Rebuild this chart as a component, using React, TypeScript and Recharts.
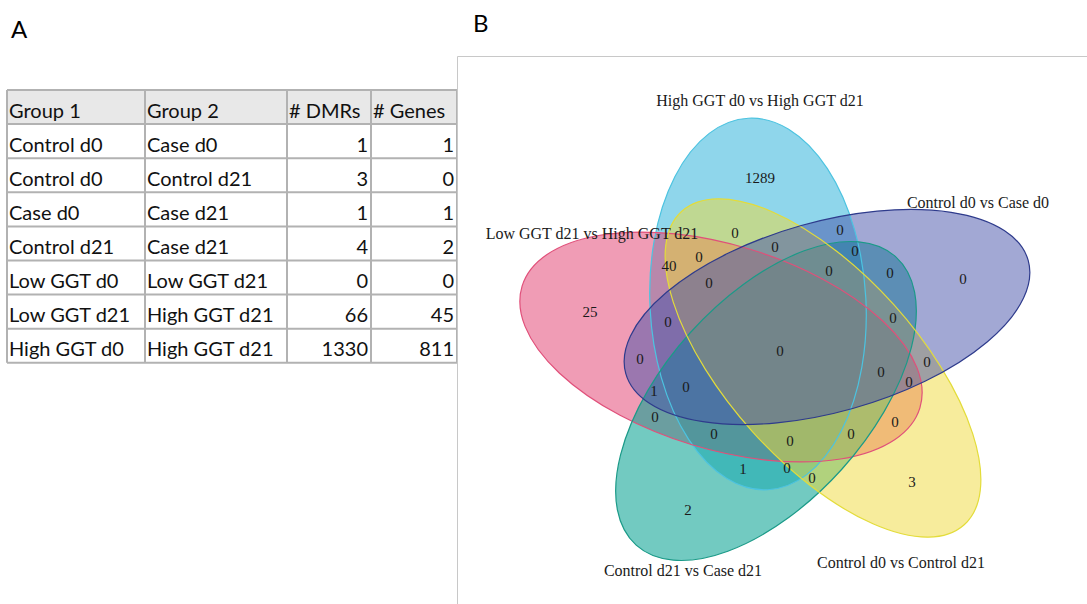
import { ScatterChart, Scatter, XAxis, YAxis } from 'recharts';

// ---- panel A: comparison table ----
const tableHeaders = ['Group 1', 'Group 2', '# DMRs', '# Genes'];
const group1 = ['Control d0', 'Control d0', 'Case d0', 'Control d21', 'Low GGT d0', 'Low GGT d21', 'High GGT d0'];
const group2 = ['Case d0', 'Control d21', 'Case d21', 'Case d21', 'Low GGT d21', 'High GGT d21', 'High GGT d21'];
const dmrCounts = [1, 3, 1, 4, 0, 66, 1330];
const geneCounts = [1, 0, 1, 2, 0, 45, 811];

// ---- panel B: five-set venn ----
const setNames = [
  'High GGT d0 vs High GGT d21',
  'Control d0 vs Case d0',
  'Control d0 vs Control d21',
  'Control d21 vs Case d21',
  'Low GGT d21 vs High GGT d21',
];
// one count per region (31 regions)
const regionCounts = [
  1289, 0, 25, 3, 2,
  40, 0, 0, 0, 0, 0, 0, 0, 0,
  0, 0, 0, 0, 0, 0, 0,
  1, 0, 0, 0, 0, 0, 0,
  1, 0, 0,
];

// layout, in page pixels (the chart axes map these straight to the plot)
const X_MIN = 457;
const X_MAX = 1087;
const Y_MIN = 56;
const Y_MAX = 604;
const CHART_W = X_MAX - X_MIN;
const CHART_H = Y_MAX - Y_MIN;

const setShapes = [
  { cx: 758, cy: 304, a: 186, b: 108, angle: -93 },
  { cx: 827, cy: 317, a: 209, b: 95, angle: -15.7 },
  { cx: 823, cy: 368, a: 211, b: 95, angle: 48 },
  { cx: 766, cy: 401, a: 194, b: 102, angle: -48 },
  { cx: 721, cy: 347, a: 208, b: 102, angle: 17 },
];
const setLabelPos = [
  [760, 100],
  [978, 202],
  [901, 562],
  [683, 570],
  [592, 233],
];
const regionLabelPos = [
  [760, 178], [963, 279], [590, 312], [912, 482], [688, 510],
  [669, 266], [735, 233], [840, 230], [699, 257], [775, 247], [855, 251], [709, 283], [829, 271], [890, 273],
  [668, 322], [893, 318], [780, 351], [640, 359], [927, 362], [881, 372], [909, 382],
  [654, 391], [686, 387], [655, 417], [714, 434], [790, 441], [851, 434], [895, 422],
  [743, 469], [787, 468], [812, 478],
];
const setFill = ['#1fadd8', '#4551a9', '#efd939', '#03a090', '#e1396b'];
const setStroke = ['#4cc3e0', '#2e3b8c', '#e3dc3a', '#1b9a88', '#e0507a'];
const setOpacity = [0.5, 0.5, 0.5, 0.56, 0.5];
const drawOrder = [0, 4, 3, 2, 1];

const kx = CHART_W / (X_MAX - X_MIN);
const ky = CHART_H / (Y_MAX - Y_MIN);

const ellipseData = drawOrder.map((i) => ({
  x: setShapes[i].cx,
  y: setShapes[i].cy,
  idx: i,
}));
const setLabelData = setNames.map((name, i) => ({ x: setLabelPos[i][0], y: setLabelPos[i][1], name }));
const regionData = regionCounts.map((value, i) => ({ x: regionLabelPos[i][0], y: regionLabelPos[i][1], value }));

const EllipseFill = (props: any) => {
  const { cx, cy, payload } = props;
  const s = setShapes[payload.idx];
  return (
    <ellipse
      cx={cx}
      cy={cy}
      rx={s.a * kx}
      ry={s.b * ky}
      transform={`rotate(${s.angle} ${cx} ${cy})`}
      fill={setFill[payload.idx]}
      fillOpacity={setOpacity[payload.idx]}
      stroke="none"
    />
  );
};

const EllipseEdge = (props: any) => {
  const { cx, cy, payload } = props;
  const s = setShapes[payload.idx];
  return (
    <ellipse
      cx={cx}
      cy={cy}
      rx={s.a * kx}
      ry={s.b * ky}
      transform={`rotate(${s.angle} ${cx} ${cy})`}
      fill="none"
      stroke={setStroke[payload.idx]}
      strokeWidth={1.2}
    />
  );
};

const serif = '"Liberation Serif", "Times New Roman", serif';

const SetLabel = (props: any) => (
  <text x={props.cx} y={props.cy} textAnchor="middle" dominantBaseline="central" fontFamily={serif} fontSize={16} fill="#1a1a1a">
    {props.payload.name}
  </text>
);

const RegionLabel = (props: any) => (
  <text x={props.cx} y={props.cy} textAnchor="middle" dominantBaseline="central" fontFamily={serif} fontSize={15} fill="#1a1a1a">
    {props.payload.value}
  </text>
);

const colX = [7, 145, 287, 371, 457];
const tableTop = 90;
const rowH = 34.1;
const sans = 'Lato, "Open Sans", sans-serif';

const TablePanel = () => {
  const rows = group1.map((g, i) => [g, group2[i], String(dmrCounts[i]), String(geneCounts[i])]);
  const allRows = [tableHeaders, ...rows];
  const bottom = tableTop + rowH * allRows.length;
  return (
    <svg width={1087} height={604} style={{ position: 'absolute', left: 0, top: 0 }}>
      <text x={11} y={38} fontFamily={sans} fontSize={24} fill="#000">A</text>
      <text x={473} y={32} fontFamily={sans} fontSize={24} fill="#000">B</text>
      <rect x={colX[0]} y={tableTop} width={colX[4] - colX[0]} height={rowH} fill="#e8e8e8" />
      {allRows.map((r, ri) =>
        r.map((cell, ci) => {
          const right = ci >= 2 && ri > 0;
          return (
            <text
              key={`${ri}-${ci}`}
              x={right ? colX[ci + 1] - 3 : colX[ci] + 2}
              y={tableTop + ri * rowH + 27.5}
              textAnchor={right ? 'end' : 'start'}
              fontFamily={sans}
              fontSize={20}
              fill="#111"
            >
              {cell}
            </text>
          );
        })
      )}
      {allRows.map((_, ri) => (
        <line key={`h${ri}`} x1={colX[0]} x2={colX[4]} y1={tableTop + ri * rowH} y2={tableTop + ri * rowH} stroke="#b2b2b2" strokeWidth={2} />
      ))}
      <line x1={colX[0]} x2={colX[4]} y1={bottom} y2={bottom} stroke="#b2b2b2" strokeWidth={2} />
      {colX.map((x, i) => (
        <line key={`v${i}`} x1={x} x2={x} y1={tableTop} y2={bottom} stroke="#b2b2b2" strokeWidth={2} />
      ))}
      <line x1={457.5} x2={1087} y1={56.5} y2={56.5} stroke="#c8c8c8" strokeWidth={1} />
      <line x1={457.5} x2={457.5} y1={56.5} y2={604} stroke="#c8c8c8" strokeWidth={1} />
    </svg>
  );
};

const App = () => {
  return (
    <div style={{ position: 'absolute', left: 0, top: 0, width: 1087, height: 604, background: '#fff', overflow: 'hidden' }}>
      <TablePanel />
      <div style={{ position: 'absolute', left: X_MIN, top: Y_MIN }}>
        <ScatterChart width={CHART_W} height={CHART_H} margin={{ top: 0, right: 0, bottom: 0, left: 0 }}>
          <XAxis type="number" dataKey="x" domain={[X_MIN, X_MAX]} hide />
          <YAxis type="number" dataKey="y" domain={[Y_MIN, Y_MAX]} reversed hide />
          <Scatter data={ellipseData} shape={EllipseFill} isAnimationActive={false} />
          <Scatter data={ellipseData} shape={EllipseEdge} isAnimationActive={false} />
          <Scatter data={setLabelData} shape={SetLabel} isAnimationActive={false} />
          <Scatter data={regionData} shape={RegionLabel} isAnimationActive={false} />
        </ScatterChart>
      </div>
    </div>
  );
};

export default App;
